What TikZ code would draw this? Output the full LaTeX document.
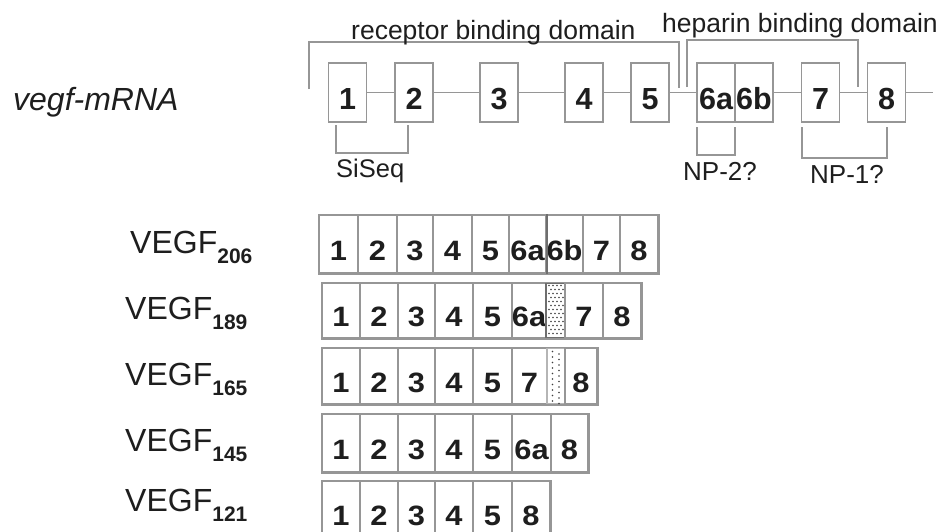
\documentclass[tikz,border=0pt]{standalone}
\usepackage{fontspec}
\setmainfont{Liberation Sans}
\newfontfamily\widebold{Liberation Sans Bold}[FakeStretch=1.1]
\definecolor{ink}{RGB}{30,30,30}
\definecolor{rule}{RGB}{150,150,150}
\definecolor{ruledark}{RGB}{110,110,110}
\newcommand{\fs}[1]{\fontsize{#1}{#1}\selectfont}
\newcommand{\vegfsub}[1]{VEGF\raisebox{-10pt}{\fs{21}\bfseries #1}}

\begin{document}
\begin{tikzpicture}[x=1pt,y=-1pt,
  txt/.style={anchor=base west, inner sep=0pt, text=ink},
  exon/.style={draw=rule, line width=1.6pt, minimum width=38pt, minimum height=59pt,
    inner sep=0pt, text height=33pt, text depth=0pt, text=ink, font=\fs{30.5}\bfseries},
  link/.style={draw=rule, line width=1.4pt},
  brace/.style={draw=rule, line width=1.4pt},
  cell/.style={draw=rule, line width=1.2pt, inner sep=0pt, text depth=0pt, text=ink,
    font=\fs{28}\widebold},
  frame/.style={draw=rule, line width=1.8pt},
  stip/.style={fill=ink!85},
  rowlabel/.style={txt, font=\fs{32}}]

\useasboundingbox (0,0) rectangle (940,531);
\clip (0,0) rectangle (940,531);

% ---------- gene structure ----------
\node[txt, font=\fs{32}\itshape] (mrna) at (13,110) {vegf-mRNA};

\node[exon] (e1)  at (347.5,92.5) {1};
\node[exon] (e2)  at (414,92.5)   {2};
\node[exon] (e3)  at (499,92.5)   {3};
\node[exon] (e4)  at (584,92.5)   {4};
\node[exon] (e5)  at (650,92.5)   {5};
\node[exon] (e6a) at (716,92.5)   {6a};
\node[exon] (e6b) at (754,92.5)   {6b};
\node[exon] (e7)  at (820.5,92.5) {7};
\node[exon] (e8)  at (886.5,92.5) {8};
\coordinate (tail) at (933,92.5);

\draw[link] (e1) -- (e2);
\draw[link] (e2) -- (e3);
\draw[link] (e3) -- (e4);
\draw[link] (e4) -- (e5);
\draw[link] (e5) -- (e6a);
\draw[link] (e6b) -- (e7);
\draw[link] (e7) -- (e8);
\draw[link] (e8) -- (tail);

% domain brackets
\coordinate (rbdL) at (309,89);
\coordinate (rbdR) at (679,88);
\coordinate (hbdL) at (687,87);
\coordinate (hbdR) at (858,87);
\draw[brace] (rbdL) -- (309,42) -- (679,42) -- (rbdR);
\draw[brace] (hbdL) -- (687,40) -- (858,40) -- (hbdR);
\node[txt, font=\fs{26.5}] (rbd) at (351,39) {receptor binding domain};
\node[txt, font=\fs{26.5}] (hbd) at (662,32) {heparin binding domain};

% lower brackets
\coordinate (ssL) at (336,125);
\coordinate (ssR) at (408,125);
\draw[brace] (ssL) -- (336,153) -- (408,153) -- (ssR);
\node[txt, font=\fs{25.5}] (siseq) at (336,177) {SiSeq};

\coordinate (np2L) at (697,127);
\coordinate (np2R) at (735,127);
\draw[brace] (np2L) -- (697,155) -- (735,155) -- (np2R);
\node[txt, font=\fs{26}] (np2) at (683,180) {NP-2?};

\coordinate (np1L) at (802,127);
\coordinate (np1R) at (887,127);
\draw[brace] (np1L) -- (802,158) -- (887,158) -- (np1R);
\node[txt, font=\fs{26}] (np1) at (810,183) {NP-1?};

% ---------- splice isoforms ----------
% VEGF206
\node[rowlabel] (l206) at (130,253) {\vegfsub{206}};
\begin{scope}[every node/.append style={cell, minimum height=58pt, text height=33pt}]
\node[minimum width=39pt] (a1) at (338.5,244) {1};
\node[minimum width=39pt] (a2) at (377.5,244) {2};
\node[minimum width=36pt] (a3) at (415,244)   {3};
\node[minimum width=39pt] (a4) at (452.5,244) {4};
\node[minimum width=37pt] (a5) at (490.5,244) {5};
\node[minimum width=37pt] (a6) at (527.5,244) {6a};
\node[minimum width=37pt] (a7) at (564.5,244) {6b};
\node[minimum width=37pt] (a8) at (601.5,244) {7};
\node[minimum width=38pt] (a9) at (639,244)   {8};
\end{scope}
\draw[frame] (a1.north west) rectangle (a9.south east);
\draw[ruledark, line width=2pt] (a6.north east) -- (a6.south east);

% VEGF189
\node[rowlabel] (l189) at (125,319) {\vegfsub{189}};
\begin{scope}[every node/.append style={cell, minimum height=55pt, text height=32pt}]
\node[minimum width=38pt] (b1) at (341,310.5)   {1};
\node[minimum width=38pt] (b2) at (379,310.5)   {2};
\node[minimum width=37pt] (b3) at (416.5,310.5) {3};
\node[minimum width=38pt] (b4) at (454,310.5)   {4};
\node[minimum width=39pt] (b5) at (492.5,310.5) {5};
\node[minimum width=34pt] (b6) at (529,310.5)   {6a};
\node[minimum width=19pt, draw=ruledark] (bs) at (555.5,310.5) {};
\node[minimum width=38pt] (b7) at (584,310.5)   {7};
\node[minimum width=38pt] (b8) at (622,310.5)   {8};
\end{scope}
% dense stipple in the partial exon
\foreach \r in {0,...,12} {
  \pgfmathsetmacro{\off}{mod(\r,2)*2}
  \foreach \c in {0,...,3} {
    \fill[stip] ([xshift=-6.5pt+\off pt+4*\c pt, yshift=-3pt-4*\r pt]bs.north) circle (0.9pt);
  }
}
\draw[frame] (b1.north west) rectangle (b8.south east);

% VEGF165
\node[rowlabel] (l165) at (125,385) {\vegfsub{165}};
\begin{scope}[every node/.append style={cell, minimum height=56pt, text height=33pt}]
\node[minimum width=38pt] (c1) at (341,376)   {1};
\node[minimum width=38pt] (c2) at (379,376)   {2};
\node[minimum width=37pt] (c3) at (416.5,376) {3};
\node[minimum width=38pt] (c4) at (454,376)   {4};
\node[minimum width=39pt] (c5) at (492.5,376) {5};
\node[minimum width=35pt] (c6) at (529.5,376) {7};
\node[minimum width=18pt, draw=rule!70] (cs) at (556,376) {};
\node[minimum width=32pt] (c7) at (581,376)   {8};
\end{scope}
\draw[frame] (c1.north west) rectangle (c7.south east);
% sparse stipple
\foreach \k in {0,...,9} {
  \fill[stip] ([xshift=-3.5pt, yshift=-4pt-5.5*\k pt]cs.north) circle (0.85pt);
  \fill[stip] ([xshift=3pt, yshift=-6.5pt-5.5*\k pt]cs.north) circle (0.85pt);
}

% VEGF145
\node[rowlabel] (l145) at (125,451) {\vegfsub{145}};
\begin{scope}[every node/.append style={cell, minimum height=58pt, text height=32pt}]
\node[minimum width=38pt] (d1) at (341,443)   {1};
\node[minimum width=38pt] (d2) at (379,443)   {2};
\node[minimum width=37pt] (d3) at (416.5,443) {3};
\node[minimum width=38pt] (d4) at (454,443)   {4};
\node[minimum width=39pt] (d5) at (492.5,443) {5};
\node[minimum width=39pt] (d6) at (531.5,443) {6a};
\node[minimum width=37pt] (d7) at (569.5,443) {8};
\end{scope}
\draw[frame] (d1.north west) rectangle (d7.south east);

% VEGF121 (the row runs on past the lower edge)
\node[rowlabel] (l121) at (125,511) {\vegfsub{121}};
\begin{scope}[every node/.append style={cell, minimum height=58pt, text height=30pt}]
\node[minimum width=38pt] (f1) at (341,510)   {1};
\node[minimum width=38pt] (f2) at (379,510)   {2};
\node[minimum width=37pt] (f3) at (416.5,510) {3};
\node[minimum width=38pt] (f4) at (454,510)   {4};
\node[minimum width=39pt] (f5) at (492.5,510) {5};
\node[minimum width=38pt] (f6) at (531,510)   {8};
\end{scope}
\draw[frame] (f1.north west) rectangle (f6.south east);

\end{tikzpicture}
\end{document}
